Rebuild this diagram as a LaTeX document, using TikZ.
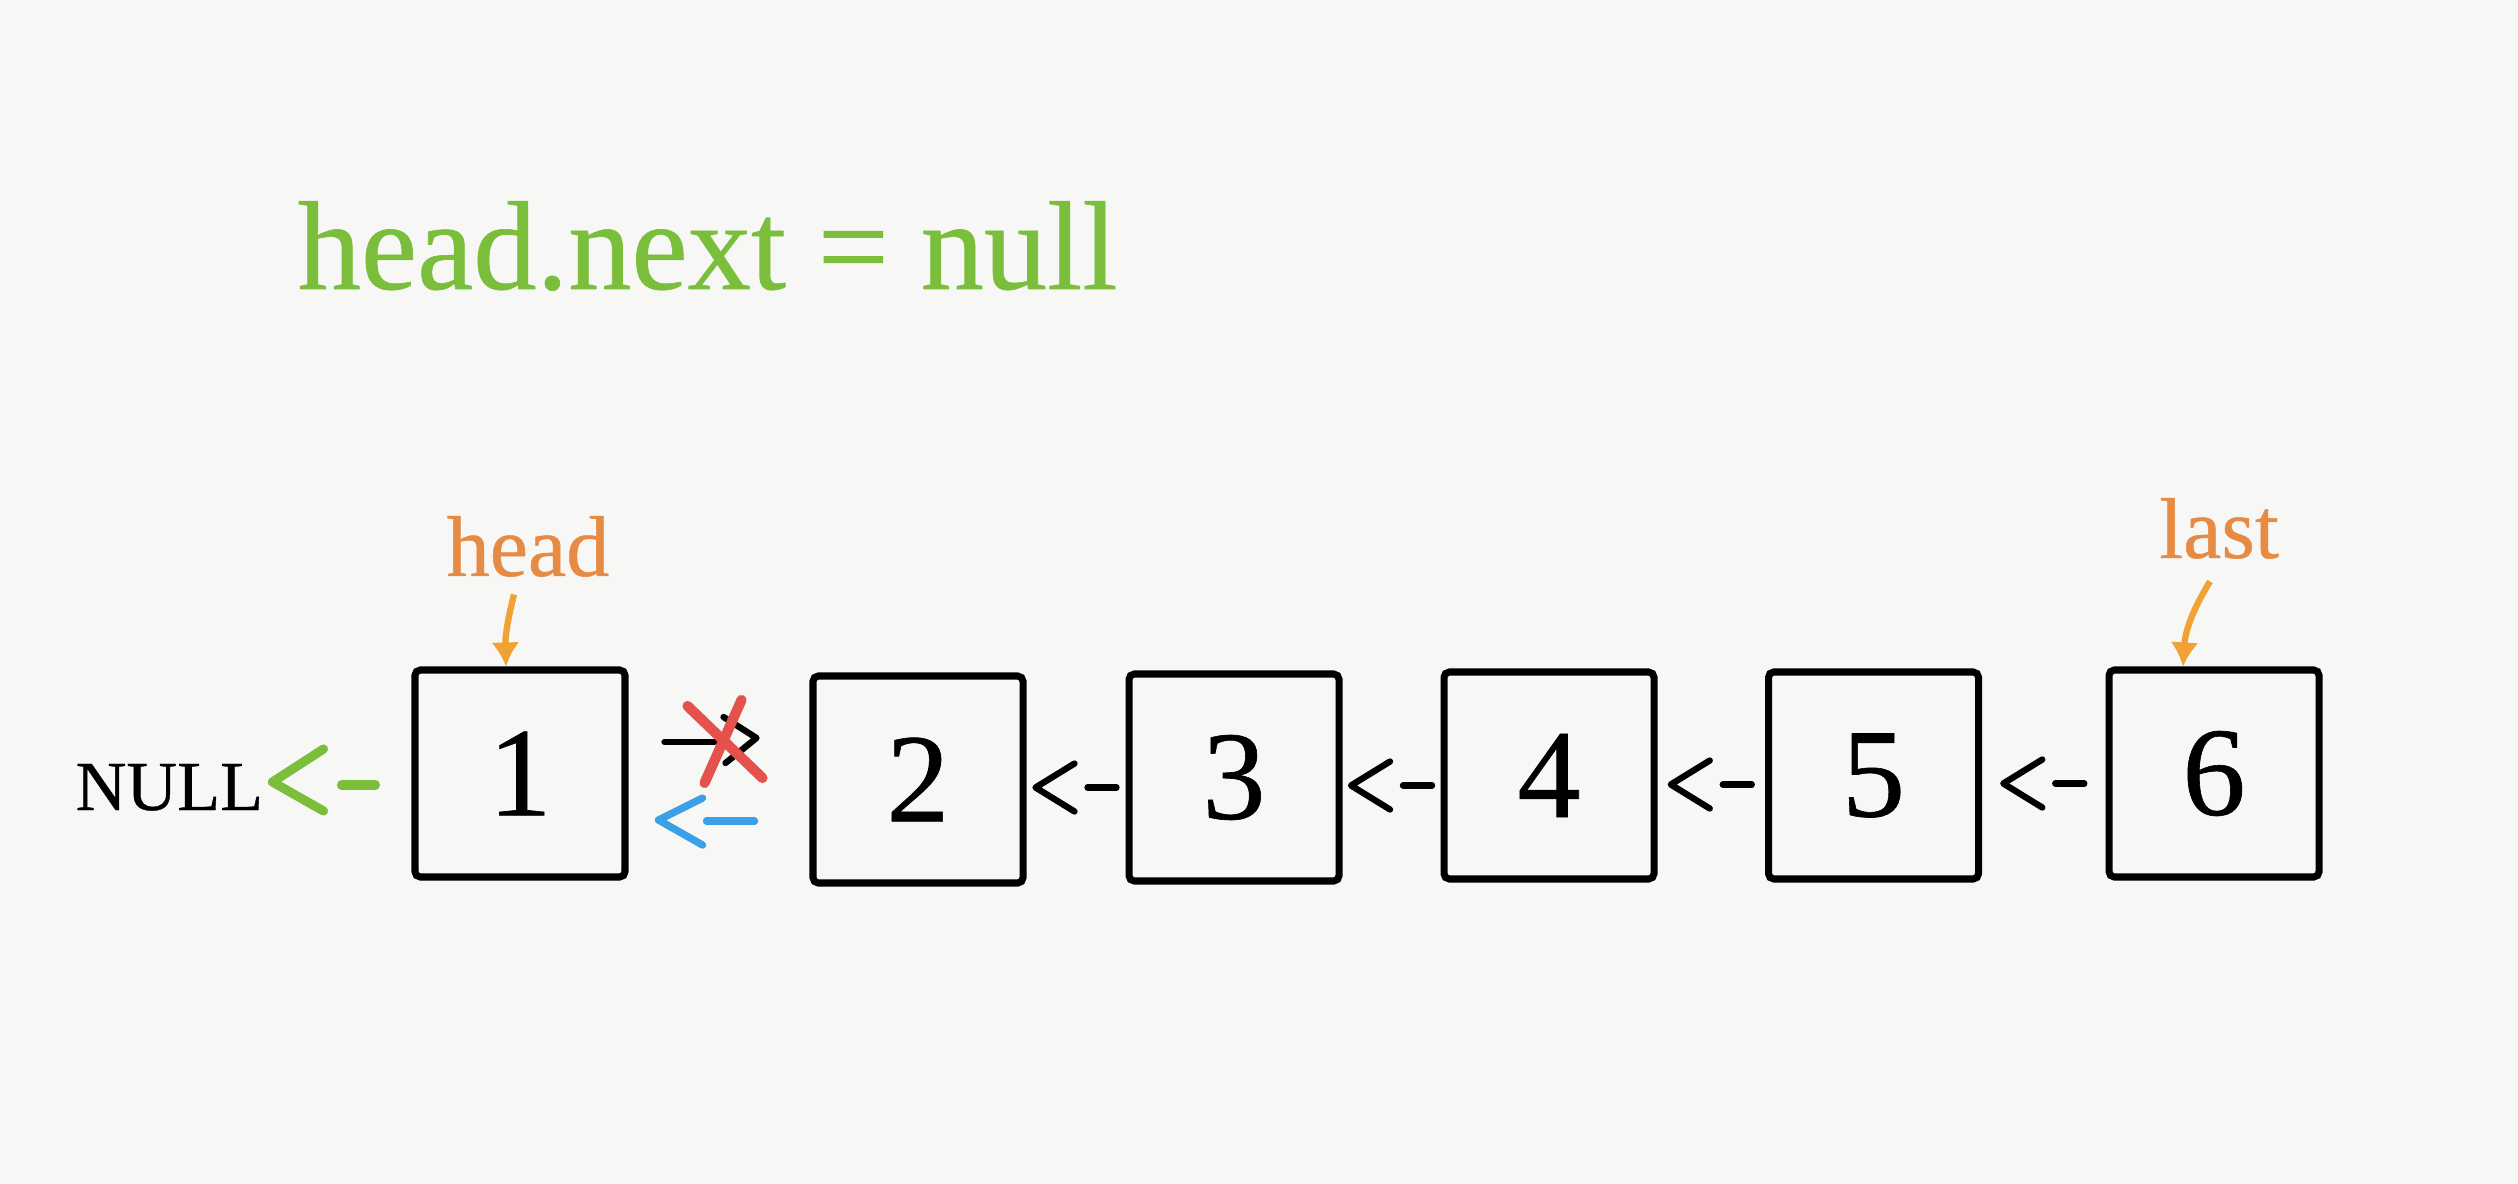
\documentclass[tikz,border=0pt]{standalone}
\usepackage{fontspec}
\setmainfont{Liberation Serif}
\newfontfamily\inkfont[FakeBold=0.5]{Liberation Serif}
\usetikzlibrary{calc, positioning, arrows.meta}

\definecolor{paper}{RGB}{247,247,245}
\definecolor{codegreen}{RGB}{122,190,60}
\definecolor{ptrorange}{RGB}{230,138,68}
\definecolor{ptrarrow}{RGB}{240,163,52}
\definecolor{crossred}{RGB}{229,82,76}
\definecolor{newblue}{RGB}{58,160,232}

\begin{document}
\begin{tikzpicture}[>=latex,
    nodebox/.style={draw, line width=2pt, rounded corners=1.5pt, minimum width=2.1cm,
        minimum height=2.07cm, inner sep=0pt, font=\inkfont\fontsize{36}{40}\selectfont},
    link/.style={line width=1.8pt, line cap=round, line join=round},
    ptr/.style={ptrarrow, line width=1.8pt, -{Latex[length=0.24cm, width=0.28cm]}},
    ptrlabel/.style={ptrorange, inner sep=0pt, font=\inkfont\fontsize{24.5}{26}\selectfont}]
    % 1. Nền giấy
    \fill[paper] (0,0) rectangle (25.18,-11.84);
    \useasboundingbox (0,0) rectangle (25.18,-11.84);

    % 2. Dòng lệnh
    \node[codegreen, anchor=base west, inner sep=0pt, font=\inkfont\fontsize{36}{40}\selectfont]
        (code) at (2.97,-2.89) {head.next = null};

    % 3. Các nút danh sách
    \node[nodebox] (b1) at (5.20,-7.735) {1};
    \node[nodebox] (b2) at (9.18,-7.795) {2};
    \node[nodebox] (b3) at (12.34,-7.775) {3};
    \node[nodebox] (b4) at (15.49,-7.755) {4};
    \node[nodebox] (b5) at (18.735,-7.755) {5};
    \node[nodebox] (b6) at (22.14,-7.735) {6};
    \node[anchor=base west, inner sep=0pt, font=\inkfont\fontsize{20}{22}\selectfont]
        (nul) at (0.75,-8.10) {NULL};

    % 4. Con trỏ head, last
    \node[ptrlabel, above=0.89cm of b1, xshift=0.08cm] (hd) {head};
    \node[ptrlabel, above=1.07cm of b6, xshift=0.05cm] (lst) {last};
    \draw[ptr] ([xshift=-0.14cm, yshift=-0.17cm]hd.south) to[bend right=8] ([xshift=-0.14cm]b1.north);
    \draw[ptr] ([xshift=-0.09cm, yshift=-0.22cm]lst.south) to[bend right=14] ([xshift=-0.31cm]b6.north);

    % 5. Mũi tên ngược giữa các nút
    \foreach \i/\j in {2/3, 3/4, 4/5, 5/6} {
        \coordinate (m) at ($(b\i.east)!0.5!(b\j.west)$);
        \begin{scope}[shift={(m)}]
            \draw[link] (-0.015,0.15) -- (-0.405,-0.09) -- (-0.015,-0.33);
            \draw[link] (0.115,-0.09) -- (0.405,-0.09);
        \end{scope}
    }

    % 6. NULL <- 1
    \begin{scope}[shift={(b1.west)}]
        \draw[codegreen, link, line width=2.6pt] (-0.88,0.245) -- (-1.39,-0.085) -- (-0.88,-0.375);
        \draw[codegreen, link, line width=2.6pt] (-0.70,-0.115) -- (-0.36,-0.115);
    \end{scope}

    % 7. 1 -> 2 bị gạch, thay bằng 1 <- 2
    \coordinate (g12) at ($(b1.east)!0.5!(b2.west)$);
    \begin{scope}[shift={(g12)}]
        \draw[link] (-0.545,0.345) -- (-0.045,0.345);
        \draw[link] (0.045,0.595) -- (0.375,0.385) -- (0.065,0.135);
        \draw[crossred, link, line width=2.9pt] (-0.315,0.705) -- (0.435,-0.015);
        \draw[crossred, link, line width=2.9pt] (0.225,0.765) -- (-0.145,-0.065);
        \draw[newblue, link, line width=2.1pt] (-0.165,-0.215) -- (-0.605,-0.435) -- (-0.165,-0.685);
        \draw[newblue, link, line width=2.1pt] (-0.125,-0.445) -- (0.355,-0.445);
    \end{scope}
\end{tikzpicture}
\end{document}
